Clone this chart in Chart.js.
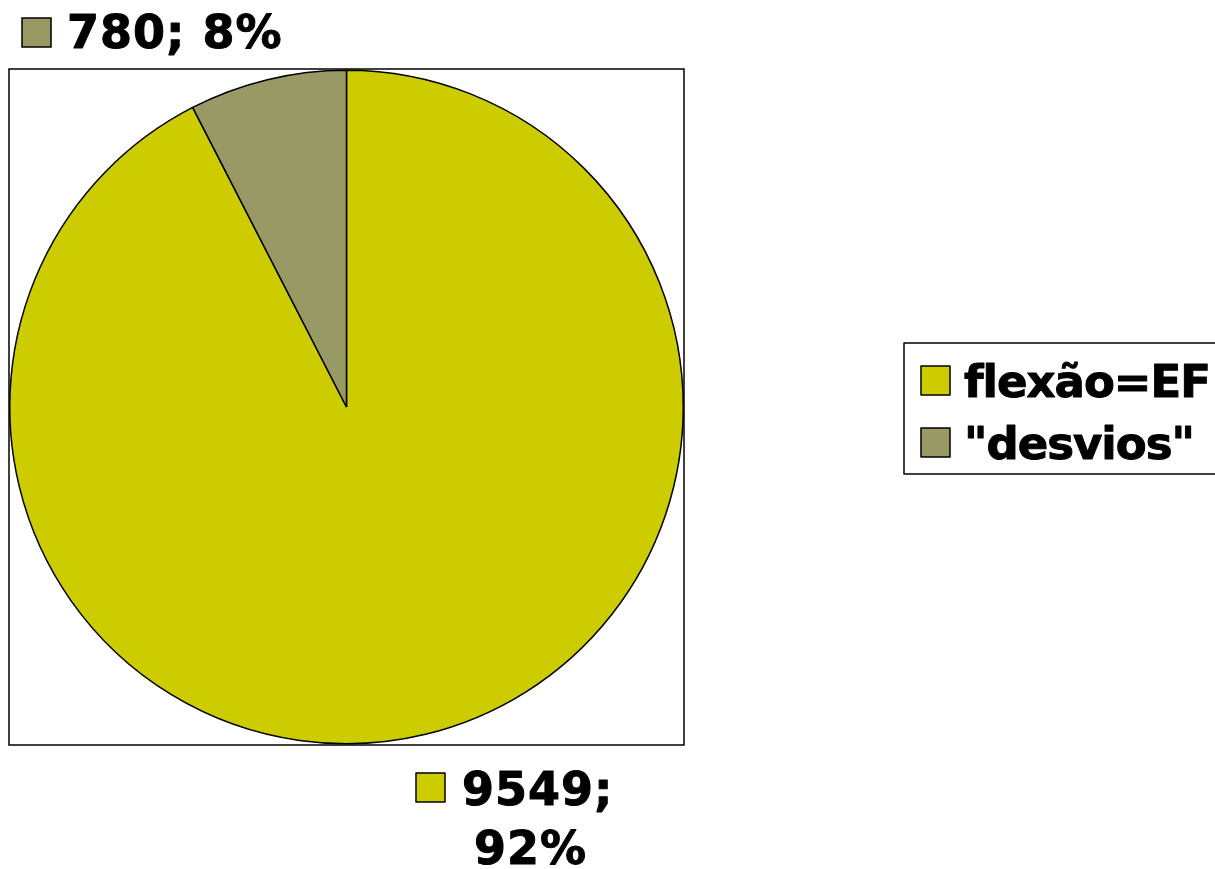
<!DOCTYPE html>
<html>
<head>
<meta charset="utf-8">
<script src="https://cdn.jsdelivr.net/npm/chart.js@4.4.1/dist/chart.umd.min.js"></script>
<style>
  html, body { margin: 0; padding: 0; background: #ffffff; }
  #wrap { width: 1215px; height: 869px; position: relative; }
</style>
</head>
<body>
<div id="wrap"><canvas id="c" width="1215" height="869"></canvas></div>
<script>
const categories = ['flexão=EF', '"desvios"'];
const values = [9549, 780];
const percents = ['92%', '8%'];
const colors = ['#CCCC00', '#999966'];

const FONT_LABEL = 'bold 46px "DejaVu Sans", Verdana, sans-serif';
const FONT_LEGEND = 'bold 45px "DejaVu Sans", Verdana, sans-serif';

function drawKey(ctx, x, y, color) {
  ctx.fillStyle = color;
  ctx.fillRect(x, y, 29, 29);
  ctx.lineWidth = 1.5;
  ctx.strokeStyle = '#000';
  ctx.strokeRect(x, y, 29, 29);
}

function heavyText(ctx, txt, x, y) {
  ctx.fillStyle = '#000';
  ctx.strokeStyle = '#000';
  ctx.lineWidth = 1;
  ctx.lineJoin = 'round';
  ctx.fillText(txt, x, y);
  ctx.strokeText(txt, x, y);
}

const decor = {
  id: 'decor',
  beforeDatasetsDraw(chart) {
    const ctx = chart.ctx, a = chart.chartArea;
    ctx.save();
    ctx.lineWidth = 1.5;
    ctx.strokeStyle = '#000';
    ctx.strokeRect(a.left, a.top, a.right - a.left, a.bottom - a.top);
    ctx.restore();
  },
  afterDraw(chart) {
    const ctx = chart.ctx;
    ctx.save();
    ctx.textBaseline = 'alphabetic';
    // data labels
    ctx.font = FONT_LABEL;
    ctx.letterSpacing = '1px';
    drawKey(ctx, 22, 18, colors[1]);
    heavyText(ctx, values[1] + '; ' + percents[1], 67, 48);
    drawKey(ctx, 416, 773, colors[0]);
    heavyText(ctx, values[0] + ';', 462, 805);
    heavyText(ctx, percents[0], 474, 864);
    // legend
    ctx.font = FONT_LEGEND;
    ctx.letterSpacing = '-1px';
    ctx.lineWidth = 1.5;
    ctx.strokeStyle = '#000';
    ctx.strokeRect(904, 343, 330, 131);
    for (let i = 0; i < categories.length; i++) {
      drawKey(ctx, 921, 366 + i * 62, colors[i]);
      heavyText(ctx, categories[i], 964, 397 + i * 62);
    }
    ctx.restore();
  }
};

new Chart(document.getElementById('c'), {
  type: 'pie',
  data: {
    labels: categories,
    datasets: [{
      data: values,
      backgroundColor: colors,
      borderColor: '#000',
      borderWidth: 1.5,
      hoverOffset: 0
    }]
  },
  options: {
    responsive: false,
    animation: false,
    events: [],
    layout: { padding: { left: 9, top: 69, right: 531, bottom: 124 } },
    plugins: {
      legend: { display: false },
      tooltip: { enabled: false }
    }
  },
  plugins: [decor]
});
</script>
</body>
</html>
